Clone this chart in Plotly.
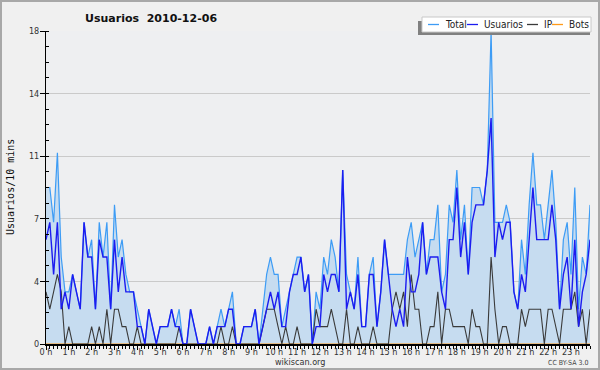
import plotly.graph_objects as go

# 10-minute slots, expressed in hours of the day
slot_hours = [i / 6 for i in range(144)]

total = [9, 9, 7, 11, 5, 3, 3, 4, 3, 2, 7, 5, 6, 2, 7, 5, 7, 2, 8, 5, 6, 4, 3, 3,
         2, 1, 0, 2, 1, 0, 1, 1, 1, 2, 1, 2, 0, 0, 2, 1, 0, 0, 0, 1, 0, 1, 2, 1,
         2, 3, 0, 0, 1, 1, 1, 2, 0, 2, 4, 5, 4, 4, 1, 2, 3, 4, 5, 5, 3, 4, 0, 3,
         2, 5, 4, 6, 5, 3, 10, 4, 3, 2, 5, 1, 1, 4, 5, 1, 3, 6, 4, 4, 4, 4, 4, 6,
         7, 5, 6, 7, 4, 6, 6, 8, 3, 4, 8, 7, 10, 6, 8, 4, 9, 9, 9, 8, 10, 18, 7, 7,
         7, 8, 7, 3, 2, 6, 4, 8, 11, 8, 8, 6, 8, 10, 7, 2, 6, 7, 4, 9, 2, 5, 4, 8]

usuarios = [6, 7, 4, 7, 2, 3, 2, 4, 3, 2, 7, 5, 5, 2, 6, 5, 5, 2, 6, 3, 5, 3, 3, 3,
            1, 1, 0, 2, 1, 0, 1, 1, 1, 2, 1, 1, 0, 0, 2, 1, 0, 0, 0, 1, 0, 1, 1, 1,
            2, 2, 0, 0, 1, 1, 1, 2, 0, 1, 2, 3, 2, 3, 1, 1, 3, 4, 4, 5, 3, 4, 0, 1,
            1, 4, 3, 4, 4, 3, 10, 2, 3, 2, 4, 1, 1, 4, 4, 1, 3, 6, 4, 2, 1, 2, 1, 5,
            3, 3, 4, 7, 4, 5, 5, 5, 3, 2, 6, 6, 9, 5, 7, 4, 7, 8, 8, 8, 10, 13, 5, 7,
            6, 7, 7, 3, 2, 4, 3, 6, 9, 6, 6, 6, 6, 8, 6, 2, 4, 5, 2, 6, 1, 3, 4, 6]

ip = [3, 2, 3, 4, 3, 0, 1, 0, 0, 0, 0, 0, 1, 0, 1, 0, 2, 0, 2, 2, 1, 1, 0, 0,
      1, 0, 0, 0, 0, 0, 0, 0, 0, 0, 0, 1, 0, 0, 0, 0, 0, 0, 0, 0, 0, 0, 1, 0,
      0, 1, 0, 0, 0, 0, 0, 0, 0, 1, 2, 2, 2, 1, 0, 1, 0, 0, 1, 0, 0, 0, 0, 2,
      1, 1, 1, 2, 1, 0, 0, 2, 0, 0, 1, 0, 0, 0, 1, 0, 0, 0, 0, 2, 3, 2, 3, 1,
      4, 2, 2, 0, 0, 1, 1, 3, 0, 2, 2, 1, 1, 1, 1, 0, 2, 1, 1, 0, 0, 5, 2, 0,
      1, 1, 0, 0, 0, 2, 1, 2, 2, 2, 2, 0, 2, 2, 1, 0, 2, 2, 2, 3, 1, 2, 0, 2]

bots = [0, 0, 0, 0, 0, 0, 0, 0, 0, 0, 0, 0, 0, 0, 0, 0, 0, 0, 0, 0, 0, 0, 0, 0,
        0, 0, 0, 0, 0, 0, 0, 0, 0, 0, 0, 0, 0, 0, 0, 0, 0, 0, 0, 0, 0, 0, 0, 0,
        0, 0, 0, 0, 0, 0, 0, 0, 0, 0, 0, 0, 0, 0, 0, 0, 0, 0, 0, 0, 0, 0, 0, 0,
        0, 0, 0, 0, 0, 0, 0, 0, 0, 0, 0, 0, 0, 0, 0, 0, 0, 0, 0, 0, 0, 0, 0, 0,
        0, 0, 0, 0, 0, 0, 0, 0, 0, 0, 0, 0, 0, 0, 0, 0, 0, 0, 0, 0, 0, 0, 0, 0,
        0, 0, 0, 0, 0, 0, 0, 0, 0, 0, 0, 0, 0, 0, 0, 0, 0, 0, 0, 0, 0, 0, 0, 0]

hour_ticks = list(range(24))
hour_labels = [f"{h} h" for h in hour_ticks]
y_ticks = [0, 3.6, 7.2, 10.8, 14.4, 18]
y_labels = ["0", "4", "7", "11", "14", "18"]

series_names = ["Total", "Usuarios", "IP", "Bots"]
series_colors = ["#3d9cf5", "#1c1cf0", "#3a3a3a", "#ff9a1a"]

W, H = 600, 370
L, R, T, B = 46, 10, 31, 26
PW, PH = W - L - R, H - T - B

COND = "DejaVu Sans Condensed, Liberation Sans Narrow, DejaVu Sans"


def fx(px):
    return (px - L) / PW


def fy(py):
    return (H - B - py) / PH


fig = go.Figure()
fig.add_trace(go.Scatter(x=slot_hours, y=total, mode="lines", fill="tozeroy",
                         fillcolor="#c6dcf0", line=dict(color=series_colors[0], width=1.2),
                         showlegend=False))
fig.add_trace(go.Scatter(x=slot_hours, y=bots, mode="lines",
                         line=dict(color=series_colors[3], width=1.2), showlegend=False))
fig.add_trace(go.Scatter(x=slot_hours, y=ip, mode="lines",
                         line=dict(color=series_colors[2], width=1.1), showlegend=False))
fig.add_trace(go.Scatter(x=slot_hours, y=usuarios, mode="lines",
                         line=dict(color=series_colors[1], width=1.4), showlegend=False))

tick_font = dict(family=COND, size=9, color="#333333")

fig.update_layout(
    width=W, height=H,
    margin=dict(l=L, r=R, t=T, b=B, pad=0),
    paper_bgcolor="#f0f0f0",
    plot_bgcolor="#eeeff1",
    showlegend=False,
    xaxis=dict(range=[0, 143 / 6], tickvals=hour_ticks, ticktext=hour_labels,
               ticks="outside", ticklen=4, tickcolor="#000", tickwidth=1,
               showline=True, linecolor="#000", linewidth=2, showgrid=False,
               zeroline=False, tickfont=tick_font, fixedrange=True,
               ticklabelstandoff=-6,
               minor=dict(dtick=1 / 6, tick0=0, ticks="outside", ticklen=3,
                          tickcolor="#000", showgrid=False)),
    yaxis=dict(range=[0, 18], tickvals=y_ticks, ticktext=y_labels,
               ticks="outside", ticklen=5, tickcolor="#000", tickwidth=1,
               showline=True, linecolor="#000", linewidth=1,
               showgrid=True, gridcolor="#cacaca", gridwidth=1,
               zeroline=False, tickfont=tick_font, fixedrange=True,
               ticklabelstandoff=-1,
               minor=dict(dtick=0.9, tick0=0, ticks="inside", ticklen=3,
                          tickcolor="#000", showgrid=False)),
)

shapes = []
annotations = []
# outer border
shapes.append(dict(type="rect", xref="paper", yref="paper", x0=fx(1), x1=fx(599),
                   y0=fy(1), y1=fy(369), line=dict(color="#a8a8a8", width=2),
                   layer="above"))

# title
annotations.append(dict(text="<b>Usuarios  2010-12-06</b>", xref="paper", yref="paper",
                        x=fx(151), y=fy(18), xanchor="center", yanchor="middle",
                        showarrow=False, font=dict(family="DejaVu Sans", size=11, color="#111")))
# y title
annotations.append(dict(text="Usuarios/10 mins", xref="paper", yref="paper",
                        x=fx(10), y=fy(187), xanchor="center", yanchor="middle", textangle=-90,
                        showarrow=False, font=dict(family="DejaVu Sans Mono", size=10, color="#111")))
# footer
annotations.append(dict(text="wikiscan.org", xref="paper", yref="paper",
                        x=fx(300), y=fy(362), xanchor="center", yanchor="middle",
                        showarrow=False, font=dict(family=COND, size=9, color="#333")))
annotations.append(dict(text="CC BY-SA 3.0", xref="paper", yref="paper",
                        x=fx(590), y=fy(363), xanchor="right", yanchor="middle",
                        showarrow=False, font=dict(family=COND, size=7, color="#444")))

# legend box with shadow
shapes.append(dict(type="rect", xref="paper", yref="paper", x0=fx(418), x1=fx(590),
                   y0=fy(35), y1=fy(21), fillcolor="#808080", line=dict(width=0), layer="above"))
shapes.append(dict(type="rect", xref="paper", yref="paper", x0=fx(422), x1=fx(591),
                   y0=fy(32), y1=fy(17), fillcolor="#ffffff",
                   line=dict(color="#c8c8c8", width=1), layer="above"))
legend_x = [428, 467, 527, 552]
for name, col, lx in zip(series_names, series_colors, legend_x):
    shapes.append(dict(type="line", xref="paper", yref="paper", x0=fx(lx), x1=fx(lx + 11),
                       y0=fy(24.5), y1=fy(24.5), line=dict(color=col, width=1.3), layer="above"))
    annotations.append(dict(text=name, xref="paper", yref="paper", x=fx(lx + 15), y=fy(24.5),
                            xanchor="left", yanchor="middle", showarrow=False,
                            font=dict(family=COND, size=10, color="#222")))

fig.update_layout(shapes=shapes, annotations=annotations)
fig.write_html("out.html", config={"displayModeBar": False},
               post_script="document.body.style.margin='0';document.body.style.overflow='hidden';")
